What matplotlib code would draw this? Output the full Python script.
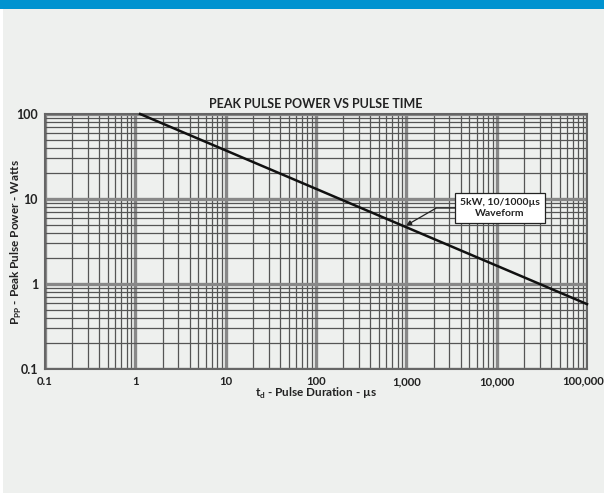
import matplotlib
matplotlib.use("Agg")
import matplotlib.pyplot as plt
from matplotlib.patches import Rectangle
from matplotlib.ticker import FixedLocator, NullFormatter

# Data
pulse_time_us = [1.13, 100000]
peak_power_w = [100, 0.58]
x_ticks = [0.1, 1, 10, 100, 1000, 10000, 100000]
x_ticklabels = ["0.1", "1", "10", "100", "1,000", "10,000", "100,000"]
y_ticks = [0.1, 1, 10, 100]
y_ticklabels = ["0.1", "1", "10", "100"]
annot_point = (1000, 4.9)
annot_text = "5kW, 10/1000µs\nWaveform"

plt.rcParams['font.family'] = ['Lato', 'DejaVu Sans']

W, H = 604, 493
fig = plt.figure(figsize=(W / 100, H / 100), dpi=100)
fig.patch.set_facecolor("white")
bg = "#eef0ee"
fig.add_artist(Rectangle((3 / W, 0), 1 - 3 / W, 1 - 9 / H, transform=fig.transFigure,
                         facecolor=bg, edgecolor="none", zorder=-10))
fig.add_artist(Rectangle((0, 1 - 9 / H), 1, 9 / H, transform=fig.transFigure,
                         facecolor="#0093d0", edgecolor="none", zorder=-10))

left, right, top, bottom = 45, 587, 114, 369
ax = fig.add_axes([left / W, 1 - bottom / H, (right - left) / W, (bottom - top) / H])
ax.set_facecolor(bg)
ax.set_xscale("log")
ax.set_yscale("log")
ax.set_xlim(0.1, 100000)
ax.set_ylim(0.1, 100)

txt = "#222222"
ax.xaxis.set_major_locator(FixedLocator(x_ticks))
ax.yaxis.set_major_locator(FixedLocator(y_ticks))
# last x label is drawn separately so it stays inside the picture
ax.set_xticklabels(x_ticklabels[:-1] + [""], fontsize=8.2, fontweight="bold", color=txt)
ax.set_yticklabels(y_ticklabels, fontsize=9, fontweight="bold", color=txt)
ax.xaxis.set_minor_formatter(NullFormatter())
ax.yaxis.set_minor_formatter(NullFormatter())
ax.tick_params(axis="x", which="both", length=0, pad=5)
ax.tick_params(axis="y", which="both", length=0, pad=5)
ax.text((583 - left) / (right - left), (bottom - 375) / (bottom - top), x_ticklabels[-1],
        transform=ax.transAxes, ha="center", va="top", fontsize=8.2, fontweight="bold",
        color=txt, clip_on=False)

ax.grid(which="minor", color="#555555", linewidth=0.9)
ax.grid(which="major", color="#888888", linewidth=2.4)
ax.set_axisbelow(True)
for s in ax.spines.values():
    s.set_color("#666666")
    s.set_linewidth(1.5)

ax.plot(pulse_time_us, peak_power_w, color="#111111", linewidth=1.8, zorder=3, clip_on=False)

ax.set_title("PEAK PULSE POWER VS PULSE TIME", fontsize=9, fontweight="bold",
             color=txt, pad=4)
ax.set_xlabel(r"t$_\mathregular{d}$ - Pulse Duration - µs", fontsize=8.5, fontweight="bold",
              color=txt)
ax.set_ylabel(r"P$_\mathregular{PP}$ - Peak Pulse Power - Watts", fontsize=8.5, fontweight="bold",
              color=txt)
ax.xaxis.set_label_coords((316 - left) / (right - left), (bottom - 393) / (bottom - top),
                          transform=ax.transAxes)
ax.xaxis.label.set_va("center")
ax.yaxis.set_label_coords((16 - left) / (right - left), (bottom - 242) / (bottom - top),
                          transform=ax.transAxes)
ax.yaxis.label.set_va("center")

# Annotation box
box_x, box_y = 500 / W, 1 - 208 / H
ax.annotate(annot_text, xy=annot_point, xycoords="data",
            xytext=(box_x, box_y), textcoords="figure fraction",
            ha="center", va="center", fontsize=7.5, fontweight="bold", color=txt,
            linespacing=1.3,
            bbox=dict(boxstyle="square,pad=0.45", facecolor="white", edgecolor="#222222", linewidth=0.9),
            arrowprops=dict(arrowstyle="-|>", color="#222222", linewidth=0.9,
                            connectionstyle="angle,angleA=0,angleB=30,rad=0",
                            mutation_scale=7, shrinkA=0, shrinkB=0),
            zorder=5)

fig.savefig("out.png", dpi=100, facecolor=fig.get_facecolor())
